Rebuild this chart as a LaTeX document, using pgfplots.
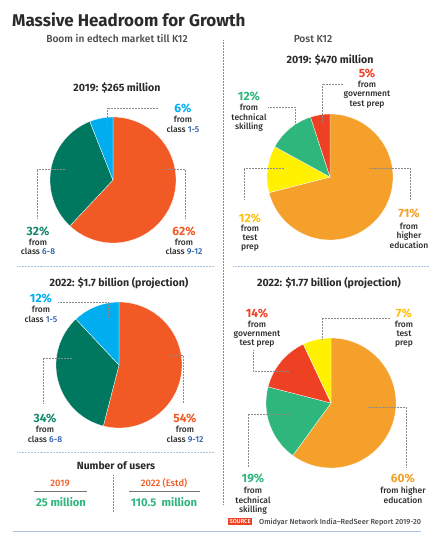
\documentclass[border=0pt]{standalone}
\usepackage{fontspec}
\setmainfont{Fira Sans}[UprightFont={Fira Sans Medium}, BoldFont={Fira Sans Bold}]
\usepackage{pgfplots}
\pgfplotsset{compat=1.18}
\definecolor{korange}{HTML}{F15A24}
\definecolor{kteal}{HTML}{00775F}
\definecolor{kblue}{HTML}{00AEEF}
\definecolor{kdblue}{HTML}{2B5DA8}
\definecolor{porange}{HTML}{F4A02B}
\definecolor{pred}{HTML}{EE4123}
\definecolor{pgreen}{HTML}{2FB67C}
\definecolor{pyellow}{HTML}{FFF100}
\definecolor{pyellowtxt}{HTML}{FDC00F}
\definecolor{tealtxt}{HTML}{14876C}
\definecolor{txt}{HTML}{2B2B2B}
\definecolor{sepblue}{HTML}{A9C4E0}
\definecolor{leadgray}{HTML}{8C8C8C}
% slice: cx, cy, radius, from (%), to (%), colour -- percentages cumulative clockwise from top
\newcommand{\slice}[6]{\fill[#6, draw=white, line width=0.3pt] (axis cs:#1,#2) -- ++({90-3.6*(#4)}:#3pt) arc[start angle={90-3.6*(#4)}, end angle={90-3.6*(#5)}, radius=#3pt] -- cycle;}
\newcommand{\txt}[4][]{\node[anchor=base, inner sep=0pt, text=txt, font=\fontsize{8.5}{10}\selectfont, #1] at (axis cs:#2,#3) {#4};}
\newcommand{\pct}[4]{\node[anchor=base, inner sep=0pt, text=#4, font=\fontsize{12}{13}\selectfont\bfseries] at (axis cs:#1,#2) {#3};}
\tikzset{lead/.style={draw=leadgray, line width=0.5pt, dash pattern=on 0.6pt off 0.9pt}}
\begin{document}
\begin{tikzpicture}
\begin{axis}[width=443pt, height=539pt, scale only axis, xmin=0, xmax=443, ymin=0, ymax=539, y dir=reverse, hide axis, clip=false]
\path (axis cs:0,0) rectangle (axis cs:443,539);
% titles
\node[anchor=base west, inner sep=0pt, text=txt, font=\fontsize{17}{19}\selectfont\bfseries] at (axis cs:12,26) {Massive Headroom for Growth};
\txt[font=\fontsize{10.2}{11}\selectfont, text=black!72]{117}{42}{Boom in edtech market till K12}
\txt[font=\fontsize{10.2}{11}\selectfont, text=black!72]{313}{42}{Post K12}
\txt[font=\fontsize{10.6}{11}\selectfont\bfseries]{117}{91}{2019: \$265 million}
\txt[font=\fontsize{10.6}{11}\selectfont\bfseries]{330}{63}{2019: \$470 million}
\txt[font=\fontsize{10.6}{11}\selectfont\bfseries]{119}{286}{2022: \$1.7 billion (projection)}
\txt[font=\fontsize{10.6}{11}\selectfont\bfseries]{329}{286}{2022: \$1.77 billion (projection)}
% separators
\draw[lead] (axis cs:223,40) -- (axis cs:223,505);
\draw[draw=sepblue, line width=0.8pt, dash pattern=on 0.6pt off 0.9pt] (axis cs:17,266) -- (axis cs:215,266);
\draw[draw=sepblue, line width=0.8pt, dash pattern=on 0.6pt off 0.9pt] (axis cs:233,266) -- (axis cs:429,266);
\draw[draw=sepblue, line width=0.8pt, dash pattern=on 0.6pt off 0.9pt] (axis cs:17,452) -- (axis cs:215,452);
% ---- Pie 1: 2019 K12 (62, 32, 6)
\slice{113}{180}{63}{0}{62}{korange}
\slice{113}{180}{63}{62}{94}{kteal}
\slice{113}{180}{63}{94}{100}{kblue}
\draw[lead] (axis cs:158,108) -- (axis cs:107,108) -- (axis cs:107,128);
\draw[lead] (axis cs:65,169) -- (axis cs:37,169) -- (axis cs:37,218);
\draw[lead] (axis cs:163,169) -- (axis cs:185,169) -- (axis cs:185,218);
\pct{183}{112}{6\%}{kblue}
\txt{183}{122}{from}
\txt{183}{132}{class \textcolor{kdblue}{1-5}}
\pct{38}{235}{32\%}{tealtxt}
\txt{38}{245}{from}
\txt{38}{254}{class \textcolor{kdblue}{6-8}}
\pct{184}{235}{62\%}{korange}
\txt{184}{245}{from}
\txt{184}{254}{class \textcolor{kdblue}{9-12}}
% ---- Pie 2: 2022 K12 (54, 34, 12)
\slice{119}{365}{63}{0}{54}{korange}
\slice{119}{365}{63}{54}{88}{kteal}
\slice{119}{365}{63}{88}{100}{kblue}
\draw[lead] (axis cs:58,302) -- (axis cs:108,302) -- (axis cs:108,317);
\draw[lead] (axis cs:72,358) -- (axis cs:43,358) -- (axis cs:43,403);
\draw[lead] (axis cs:170,355) -- (axis cs:183,355) -- (axis cs:183,403);
\pct{41}{302}{12\%}{kblue}
\txt{41}{312}{from}
\txt{41}{322}{class \textcolor{kdblue}{1-5}}
\pct{45}{422}{34\%}{tealtxt}
\txt{45}{432}{from}
\txt{45}{442}{class \textcolor{kdblue}{6-8}}
\pct{185}{422}{54\%}{korange}
\txt{185}{432}{from}
\txt{185}{442}{class \textcolor{kdblue}{9-12}}
% ---- Pie 3: 2019 post K12 (71, 12, 12, 5)
\slice{330}{177}{63}{0}{71}{porange}
\slice{330}{177}{63}{71}{83}{pyellow}
\slice{330}{177}{63}{83}{95}{pgreen}
\slice{330}{177}{63}{95}{100}{pred}
\draw[lead] (axis cs:343,84) -- (axis cs:322,84) -- (axis cs:322,122);
\draw[lead] (axis cs:268,107) -- (axis cs:295,107) -- (axis cs:295,140);
\draw[lead] (axis cs:284,168) -- (axis cs:244,168) -- (axis cs:244,200);
\draw[lead] (axis cs:369,168) -- (axis cs:410,168) -- (axis cs:410,200);
\pct{367}{77}{5\%}{pred}
\txt{367}{87}{from}
\txt{367}{96}{government}
\txt{367}{106}{test prep}
\pct{249}{100}{12\%}{pgreen}
\txt{249}{110}{from}
\txt{249}{120}{technical}
\txt{249}{129}{skilling}
\pct{250}{222}{12\%}{pyellowtxt}
\txt{250}{231}{from}
\txt{250}{240}{test}
\txt{250}{249}{prep}
\pct{409}{217}{71\%}{porange}
\txt{409}{229}{from}
\txt{409}{238}{higher}
\txt{409}{248}{education}
% ---- Pie 4: 2022 post K12 (60, 19, 14, 7)
\slice{331}{403}{65}{0}{60}{porange}
\slice{331}{403}{65}{60}{79}{pgreen}
\slice{331}{403}{65}{79}{93}{pred}
\slice{331}{403}{65}{93}{100}{pyellow}
\draw[lead] (axis cs:253,350) -- (axis cs:253,371) -- (axis cs:289,371);
\draw[lead] (axis cs:390,318) -- (axis cs:322,318) -- (axis cs:322,340);
\draw[lead] (axis cs:289,414) -- (axis cs:248,414) -- (axis cs:248,467);
\draw[lead] (axis cs:368,407) -- (axis cs:406,407) -- (axis cs:406,467);
\pct{257}{317}{14\%}{pred}
\txt{257}{327}{from}
\txt{257}{336}{government}
\txt{257}{345}{test prep}
\pct{404}{317}{7\%}{pyellowtxt}
\txt{404}{327}{from}
\txt{404}{336}{test}
\txt{404}{345}{prep}
\pct{253}{482}{19\%}{pgreen}
\txt{253}{493}{from}
\txt{253}{503}{technical}
\txt{253}{512}{skilling}
\pct{403}{482}{60\%}{porange}
\txt{403}{493}{from higher}
\txt{403}{503}{education}
% ---- Number of users
\txt[font=\fontsize{10.4}{12}\selectfont\bfseries]{116}{469}{Number of users}
\txt[font=\fontsize{9.4}{11}\selectfont, text=korange]{60}{486}{2019}
\txt[font=\fontsize{9.4}{11}\selectfont, text=korange]{164}{486}{2022 (Estd)}
\draw[black!55, line width=0.7pt] (axis cs:34,491) -- (axis cs:87,491);
\draw[black!55, line width=0.7pt] (axis cs:129,491) -- (axis cs:200,491);
\txt[font=\fontsize{11.2}{12}\selectfont\bfseries, text=pgreen]{61}{506}{25 million}
\txt[font=\fontsize{11.2}{12}\selectfont\bfseries, text=pgreen]{164}{506}{110.5\ \ million}
\draw[lead] (axis cs:113,475) -- (axis cs:113,512);
% ---- source
\node[anchor=base west, inner xsep=1.5pt, inner ysep=1.2pt, fill=pred, text=white, font=\fontsize{5.8}{6}\selectfont] at (axis cs:228,523.5) {SOURCE};
\node[anchor=base west, inner sep=0pt, text=black!70, font=\fontsize{7.4}{8}\selectfont] at (axis cs:259,524) {Omidyar Network India–RedSeer Report 2019-20};
\draw[draw=sepblue, line width=0.9pt] (axis cs:13,531) -- (axis cs:421,531);
\end{axis}
\end{tikzpicture}
\end{document}
